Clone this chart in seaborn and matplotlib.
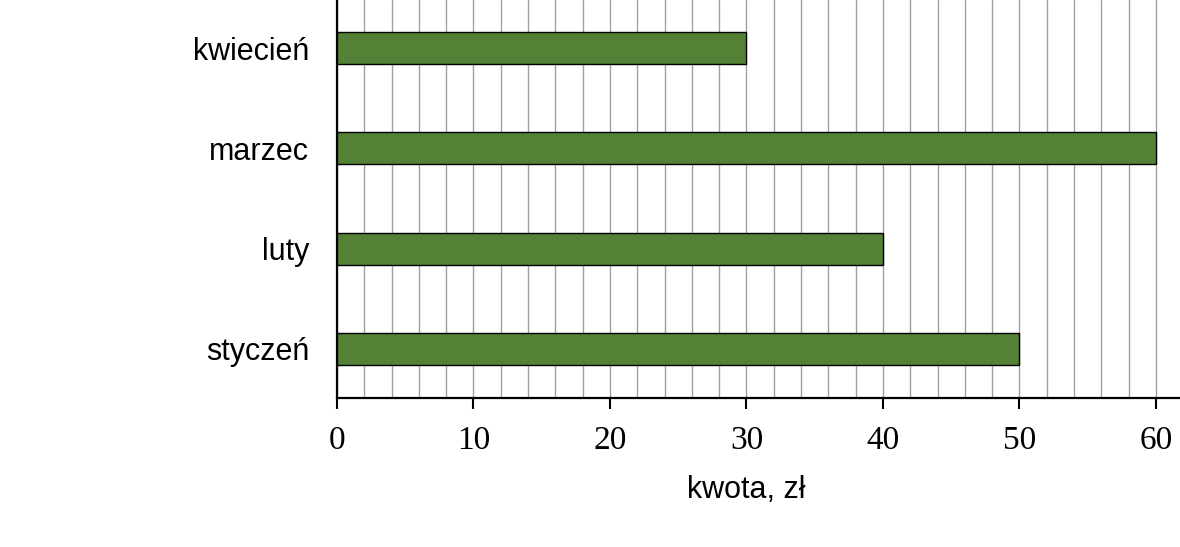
import matplotlib
matplotlib.use("Agg")
import matplotlib.pyplot as plt
from matplotlib.ticker import MultipleLocator
import seaborn as sns
import pandas as pd

categories = ["kwiecień", "marzec", "luty", "styczeń"]
values = [30, 60, 40, 50]
xlabel = "kwota, zł"

df = pd.DataFrame({"miesiac": categories, "kwota": values})

sns.set_theme(style="white")
plt.rcParams["font.family"] = ["Liberation Sans", "DejaVu Sans"]

fig = plt.figure(figsize=(11.8, 5.47), dpi=100)
ax = fig.add_axes([337 / 1180, (547 - 398) / 547, 1 - 337 / 1180, 398 / 547])

sns.barplot(data=df, x="kwota", y="miesiac", order=categories, orient="h",
            color="#538135", saturation=1, width=0.32, edgecolor="black",
            linewidth=1.0, ax=ax, zorder=3)

ax.set_xlim(0, 61.76)
ax.set_ylim(3.49, -0.48)
ax.xaxis.set_major_locator(MultipleLocator(10))
ax.xaxis.set_minor_locator(MultipleLocator(2))
ax.grid(True, which="both", axis="x", color="#a0a0a0", linewidth=1.0, zorder=0)
ax.grid(False, axis="y")
ax.set_axisbelow(True)

for s in ["top", "right"]:
    ax.spines[s].set_visible(False)
for s in ["left", "bottom"]:
    ax.spines[s].set_visible(True)
    ax.spines[s].set_color("black")
    ax.spines[s].set_linewidth(1.6)

ax.tick_params(axis="x", which="major", bottom=True, length=8, width=1.5,
               color="black", direction="out", pad=12)
ax.tick_params(axis="x", which="minor", bottom=False, length=0)
ax.tick_params(axis="y", left=False, length=0, pad=20, labelsize=22, labelcolor="black")

for lbl in ax.get_xticklabels():
    lbl.set_fontfamily("Liberation Serif")
    lbl.set_fontsize(24)
    lbl.set_color("black")

ax.set_ylabel("")
ax.set_xlabel(xlabel, fontsize=22, color="black")
ax.xaxis.set_label_coords((746 - 337) / (1180 - 337), -(490 - 398) / 398)
ax.xaxis.label.set_va("center")

fig.savefig("out.png", dpi=100)
